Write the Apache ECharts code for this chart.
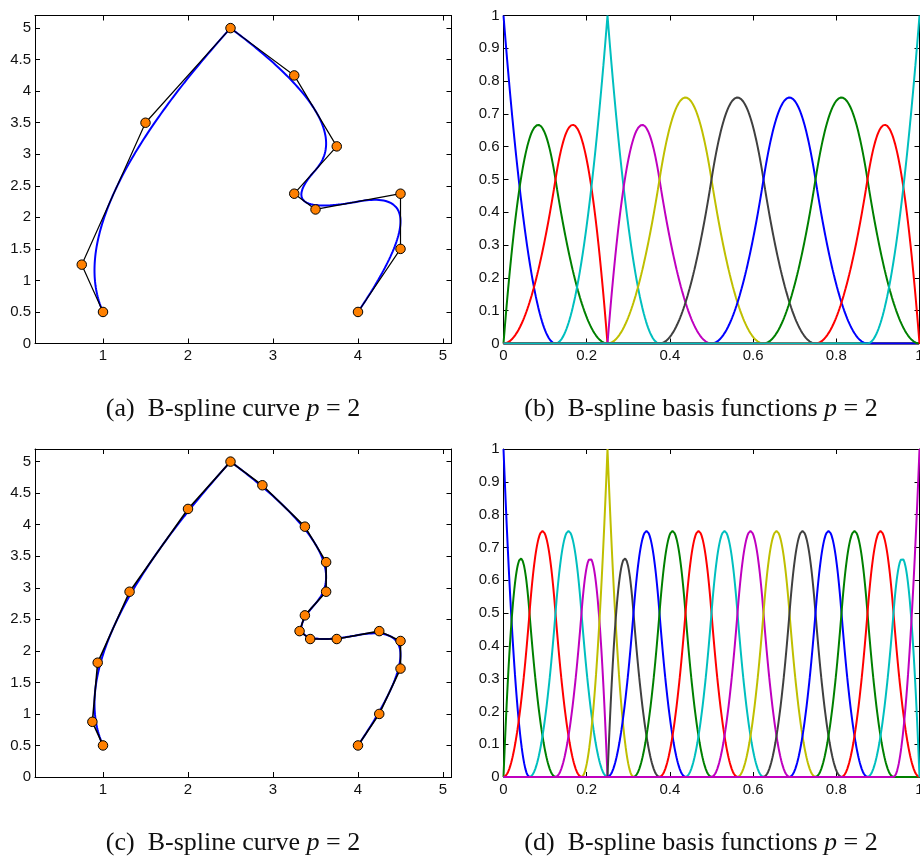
<!DOCTYPE html>
<html><head><meta charset="utf-8">
<script src="https://cdn.jsdelivr.net/npm/echarts@6/dist/echarts.min.js"></script>
<style>html,body{margin:0;padding:0;background:#fff}#c{width:920px;height:857px}</style>
</head><body><div id="c"></div>
<script>
// ---------- data ----------
const degree = 2;
// (a)/(b): original knot vector and control points
const knotsA = [0, 0, 0, 0.125, 0.25, 0.25, 0.375, 0.5, 0.625, 0.75, 0.875, 1, 1, 1];
const ctrlXA = [1, 0.75, 1.5, 2.5, 3.25, 3.75, 3.25, 3.5, 4.5, 4.5, 4];
const ctrlYA = [0.5, 1.25, 3.5, 5, 4.25, 3.125, 2.375, 2.125, 2.375, 1.5, 0.5];
// (c)/(d): refined knot vector and control points
const knotsC = [0, 0, 0, 0.0625, 0.125, 0.1875, 0.25, 0.25, 0.3125, 0.375, 0.4375, 0.5, 0.5625,
  0.625, 0.6875, 0.75, 0.8125, 0.875, 0.9375, 1, 1, 1];
const ctrlXC = [1, 0.875, 0.9375, 1.3125, 2, 2.5, 2.875, 3.375, 3.625, 3.625, 3.375, 3.3125, 3.4375,
  3.75, 4.25, 4.5, 4.5, 4.25, 4];
const ctrlYC = [0.5, 0.875, 1.8125, 2.9375, 4.25, 5, 4.625, 3.96875, 3.40625, 2.9375, 2.5625, 2.3125,
  2.1875, 2.1875, 2.3125, 2.15625, 1.71875, 1, 0.5];
// tick labels
const curveXTicks = [1, 2, 3, 4, 5];
const curveYTicks = [0, 0.5, 1, 1.5, 2, 2.5, 3, 3.5, 4, 4.5, 5];
const basisXTicks = [0, 0.2, 0.4, 0.6, 0.8, 1];
const basisYTicks = [0, 0.1, 0.2, 0.3, 0.4, 0.5, 0.6, 0.7, 0.8, 0.9, 1];
const captions = ['(a)', '(b)', '(c)', '(d)'];
const captionCurve = 'B-spline curve';
const captionBasis = 'B-spline basis functions';
const seriesColors = ['#0000ff', '#008000', '#ff0000', '#00bfbf', '#bf00bf', '#bfbf00', '#404040'];

// ---------- B-spline evaluation (Cox–de Boor) ----------
function basisFn(U, i, p, t) {
  const last = U[U.length - 1];
  if (p === 0) {
    if (U[i] <= t && t < U[i + 1]) return 1;
    if (t === last && U[i + 1] === last && U[i] < U[i + 1]) return 1;
    return 0;
  }
  let v = 0;
  const d1 = U[i + p] - U[i], d2 = U[i + p + 1] - U[i + 1];
  if (d1 > 0) v += (t - U[i]) / d1 * basisFn(U, i, p - 1, t);
  if (d2 > 0) v += (U[i + p + 1] - t) / d2 * basisFn(U, i + 1, p - 1, t);
  return v;
}
const params = [];
for (let k = 0; k <= 800; k++) params.push(k / 800);

function basisSeries(U, n, grid) {
  const out = [];
  for (let i = 0; i < n; i++) {
    out.push({
      type: 'line', xAxisIndex: grid * 2, yAxisIndex: grid * 2, showSymbol: false, silent: true,
      lineStyle: { width: 2, color: seriesColors[i % 7] }, itemStyle: { color: seriesColors[i % 7] },
      data: params.map(t => [t, basisFn(U, i, degree, t)])
    });
  }
  return out;
}
function curveData(U, X, Y) {
  return params.map(t => {
    let x = 0, y = 0;
    for (let i = 0; i < X.length; i++) { const b = basisFn(U, i, degree, t); x += b * X[i]; y += b * Y[i]; }
    return [x, y];
  });
}
function curveSeries(U, X, Y, grid, polyWidth) {
  const pts = X.map((x, i) => [x, Y[i]]);
  return [
    { type: 'line', z: 2, xAxisIndex: grid * 2, yAxisIndex: grid * 2, showSymbol: false, silent: true,
      lineStyle: { width: 2, color: '#0000ff' }, data: curveData(U, X, Y) },
    { type: 'line', z: 3, xAxisIndex: grid * 2, yAxisIndex: grid * 2, showSymbol: false, silent: true,
      lineStyle: { width: polyWidth, color: '#000' }, data: pts },
    { type: 'scatter', z: 6, xAxisIndex: grid * 2, yAxisIndex: grid * 2, symbol: 'circle', symbolSize: 9.5, silent: true,
      itemStyle: { color: '#ff8000', borderColor: '#000', borderWidth: 1, opacity: 1 }, data: pts }
  ];
}

// ---------- axes ----------
const txt = { fontFamily: 'Liberation Sans', fontSize: 15, color: '#111' };
function mkAxis(grid, pos, min, max, ticks, showLabel, isY) {
  return {
    type: 'value', gridIndex: grid, position: pos, min: min, max: max,
    axisLine: { show: true, onZero: false, lineStyle: { color: '#000', width: 1 } },
    axisTick: { show: true, inside: true, length: 5, customValues: ticks, lineStyle: { color: '#000', width: 1 } },
    axisLabel: Object.assign({ show: showLabel, customValues: ticks, margin: isY ? 4 : 5,
      formatter: v => String(+v.toFixed(4)) }, txt),
    splitLine: { show: false }
  };
}
const xAxes = [], yAxes = [];
const gridsSpec = [
  { left: 35, top: 15.5, width: 416.5, height: 328, outerBoundsMode: 'none', containLabel: false },
  { left: 503.5, top: 15.5, width: 416, height: 328, outerBoundsMode: 'none', containLabel: false },
  { left: 35, top: 449, width: 416.5, height: 328, outerBoundsMode: 'none', containLabel: false },
  { left: 503.5, top: 449, width: 416, height: 328, outerBoundsMode: 'none', containLabel: false }
];
[0, 1, 2, 3].forEach(g => {
  const isCurve = g % 2 === 0;
  const xr = isCurve ? [0.2, 5.1] : [0, 1];
  const yr = isCurve ? [0, 5.2] : [0, 1];
  const xt = isCurve ? curveXTicks : basisXTicks;
  const yt = isCurve ? curveYTicks : basisYTicks;
  xAxes.push(mkAxis(g, 'bottom', xr[0], xr[1], xt, true, false));
  xAxes.push(mkAxis(g, 'top', xr[0], xr[1], xt, false, false));
  yAxes.push(mkAxis(g, 'left', yr[0], yr[1], yt, true, true));
  yAxes.push(mkAxis(g, 'right', yr[0], yr[1], yt, false, true));
});

const series = [].concat(
  curveSeries(knotsA, ctrlXA, ctrlYA, 0, 1.2),
  basisSeries(knotsA, ctrlXA.length, 1),
  curveSeries(knotsC, ctrlXC, ctrlYC, 2, 1.6),
  basisSeries(knotsC, ctrlXC.length, 3)
);

const capPos = [[233, 409], [701, 409], [233, 843], [701, 843]];
const graphic = capPos.map((p, k) => ({
  type: 'text', x: p[0], y: p[1],
  style: {
    text: captions[k] + '  ' + (k % 2 === 0 ? captionCurve : captionBasis) + ' {i|p}\u2005=\u20052',
    fontFamily: 'Liberation Serif', fontSize: 26, fill: '#111',
    align: 'center', verticalAlign: 'middle',
    rich: { i: { fontFamily: 'Liberation Serif', fontStyle: 'italic', fontSize: 26, fill: '#111' } }
  }
}));

const chart = echarts.init(document.getElementById('c'), null, { renderer: 'canvas' });
chart.setOption({
  animation: false,
  backgroundColor: '#fff',
  grid: gridsSpec,
  xAxis: xAxes,
  yAxis: yAxes,
  series: series,
  graphic: graphic
});
</script>
</body></html>
